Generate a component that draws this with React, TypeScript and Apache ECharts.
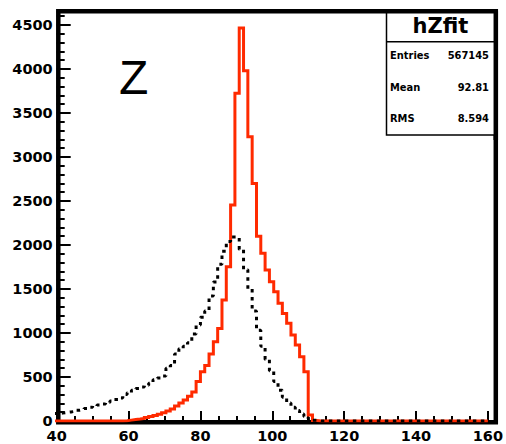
import React, { useEffect, useRef } from "react";
import * as echarts from "echarts";

// Histogram binning (GeV)
const binStart = 39.2;
const binWidth = 1.2;

// Axis ranges
const xMin = 40;
const xMax = 160;
const xStep = 20;
const yMin = 0;
const yMax = 4656;
const yStep = 500;

// Red (solid) histogram counts per bin, starting at binStart
const redCounts = [
  0, 0, 0, 0, 0, 0, 0, 0, 0, 0,
  0, 0, 0, 0, 0, 0, 4, 10, 16, 22,
  30, 40, 50, 62, 78, 95, 115, 135, 170, 205,
  240, 280, 330, 450, 560, 630, 760, 900, 1050, 1375,
  1753, 2455, 3724, 4466, 3980, 3230, 2700, 2100, 1905, 1715,
  1582, 1469, 1337, 1223, 1110, 977, 863, 730, 560, 68,
  5, 0,
];

// Black (dotted) histogram counts per bin, starting at binStart
const blackCounts = [
  85, 90, 97, 103, 110, 122, 130, 142, 155, 170,
  182, 193, 210, 228, 245, 262, 300, 320, 350, 370,
  385, 405, 430, 470, 490, 510, 600, 630, 760, 820,
  850, 890, 990, 1090, 1180, 1250, 1420, 1580, 1780, 1930,
  2040, 2090, 2090, 1950, 1720, 1500, 1250, 1030, 850, 700,
  570, 450, 350, 270, 205, 155, 118, 80, 50, 25,
  8, 0,
];

const plotLabel = "Z";
const statsTitle = "hZfit";
const statsNames = ["Entries", "Mean", "RMS"];
const statsValues = ["567145", "92.81", "8.594"];

function toSteps(counts: number[]): [number, number][] {
  const pts: [number, number][] = counts.map((c, i) => [binStart + i * binWidth, c]);
  pts.push([binStart + counts.length * binWidth, 0]);
  pts.push([xMax, 0]);
  return pts;
}

const labelFont = {
  fontFamily: "DejaVu Sans",
  fontWeight: "bold" as const,
  fontSize: 14.5,
  color: "#000",
};

export default function App() {
  const ref = useRef<HTMLDivElement>(null);

  useEffect(() => {
    if (!ref.current) return;
    const chart = echarts.init(ref.current, undefined, { renderer: "svg" });

    const rowY = [55.8, 87.5, 118.8];
    const statsText: any[] = [];
    statsNames.forEach((n, i) => {
      statsText.push({
        type: "text",
        z: 12,
        x: 390,
        y: rowY[i],
        style: {
          text: n,
          font: 'bold 11px "Liberation Sans Narrow", "DejaVu Sans Condensed", sans-serif',
          fill: "#000",
          align: "left",
          verticalAlign: "middle",
        },
      });
      statsText.push({
        type: "text",
        z: 12,
        x: 489,
        y: rowY[i],
        style: {
          text: statsValues[i],
          font: 'bold 11px "Liberation Sans Narrow", "DejaVu Sans Condensed", sans-serif',
          fill: "#000",
          align: "right",
          verticalAlign: "middle",
        },
      });
    });

    chart.setOption({
      animation: false,
      backgroundColor: "#fff",
      grid: { left: 56.7, right: 9.4, top: 11.3, bottom: 23 },
      xAxis: {
        type: "value",
        min: xMin,
        max: xMax,
        interval: xStep,
        axisLine: { show: false },
        splitLine: { show: false },
        axisTick: { show: true, inside: true, length: 10, lineStyle: { color: "#000", width: 2 } },
        minorTick: { show: true, splitNumber: 4, length: 5, lineStyle: { color: "#000", width: 2 } },
        axisLabel: { ...labelFont, margin: 7 },
      },
      yAxis: {
        type: "value",
        min: yMin,
        max: yMax,
        interval: yStep,
        axisLine: { show: false },
        splitLine: { show: false },
        axisTick: { show: true, inside: true, length: 14, lineStyle: { color: "#000", width: 2 } },
        minorTick: { show: true, splitNumber: 5, length: 8, lineStyle: { color: "#000", width: 2 } },
        axisLabel: {
          ...labelFont,
          margin: 4,
          formatter: (v: number) => (v % yStep === 0 ? String(v) : ""),
        },
      },
      series: [
        {
          name: "red",
          type: "line",
          step: "end",
          z: 3,
          showSymbol: false,
          symbol: "none",
          data: toSteps(redCounts),
          lineStyle: { color: "#ff2a00", width: 3, join: "miter" },
        },
        {
          name: "black",
          type: "line",
          step: "end",
          z: 4,
          showSymbol: false,
          symbol: "none",
          data: toSteps(blackCounts),
          lineStyle: { color: "#000", width: 3, type: [3.5, 4.5] },
        },
      ],
      graphic: [
        {
          type: "rect",
          z: 1,
          shape: { x: 58.3, y: 11.3, width: 437.5, height: 411 },
          style: { fill: "none", stroke: "#000", lineWidth: 4.5 },
        },
        {
          type: "rect",
          z: 10,
          shape: { x: 386.5, y: 11.3, width: 109, height: 123.7 },
          style: { fill: "#fff", stroke: "#000", lineWidth: 1.5 },
        },
        {
          type: "line",
          z: 11,
          shape: { x1: 386.5, y1: 41.7, x2: 495.8, y2: 41.7 },
          style: { stroke: "#000", lineWidth: 1.5 },
        },
        {
          type: "line",
          z: 11,
          shape: { x1: 386.5, y1: 11.3, x2: 495.8, y2: 11.3 },
          style: { stroke: "#000", lineWidth: 4.5 },
        },
        {
          type: "line",
          z: 11,
          shape: { x1: 495.8, y1: 11.3, x2: 495.8, y2: 140 },
          style: { stroke: "#000", lineWidth: 4.5 },
        },
        {
          type: "text",
          z: 12,
          x: 440.5,
          y: 25.7,
          style: {
            text: statsTitle,
            font: 'bold 21px "DejaVu Sans", sans-serif',
            fill: "#000",
            align: "center",
            verticalAlign: "middle",
          },
        },
        ...statsText,
        {
          type: "text",
          z: 12,
          x: 119,
          y: 77.5,
          style: {
            text: plotLabel,
            font: '48px "Liberation Sans", Arial, sans-serif',
            fill: "#000",
            align: "left",
            verticalAlign: "middle",
          },
        },
      ],
    });

    return () => chart.dispose();
  }, []);

  return (
    <div
      ref={ref}
      style={{ position: "fixed", left: 0, top: 0, width: 506, height: 444, background: "#fff" }}
    />
  );
}
